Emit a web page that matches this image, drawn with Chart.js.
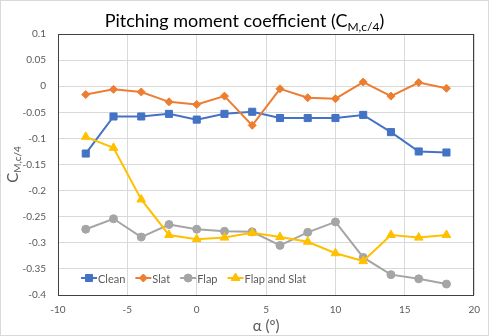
<!DOCTYPE html>
<html>
<head>
<meta charset="utf-8">
<script src="https://cdn.jsdelivr.net/npm/chart.js@4.4.1/dist/chart.umd.min.js"></script>
<style>
  html, body { margin: 0; padding: 0; background: #fff; }
  #wrap { width: 489px; height: 336px; }
</style>
</head>
<body>
<div id="wrap"><canvas id="myChart" width="489" height="336"></canvas></div>
<script>
// angle of attack (deg)
const alpha = [-8, -6, -4, -2, 0, 2, 4, 6, 8, 10, 12, 14, 16, 18];

// pitching moment coefficient
const clean = [-0.129, -0.058, -0.058, -0.053, -0.064, -0.053, -0.049, -0.061, -0.061, -0.061, -0.055, -0.088, -0.125, -0.127];
const slat = [-0.016, -0.006, -0.011, -0.030, -0.035, -0.019, -0.075, -0.005, -0.022, -0.024, 0.008, -0.019, 0.007, -0.004];
const flap = [-0.274, -0.254, -0.289, -0.265, -0.274, -0.278, -0.279, -0.305, -0.280, -0.260, -0.328, -0.361, -0.369, -0.379];
const flapSlat = [-0.097, -0.118, -0.217, -0.285, -0.293, -0.290, -0.281, -0.289, -0.298, -0.320, -0.335, -0.285, -0.290, -0.285];

const seriesNames = ['Clean', 'Slat', 'Flap', 'Flap and Slat'];
const xTicks = [-10, -5, 0, 5, 10, 15, 20];
const yTicks = [0.1, 0.05, 0, -0.05, -0.1, -0.15, -0.2, -0.25, -0.3, -0.35, -0.4];

const ctx = document.getElementById('myChart');
const FONT = 'Lato';
const TXT = '#595959';

Chart.defaults.font.family = FONT;
Chart.defaults.color = TXT;

const toXY = (ys) => alpha.map((a, i) => ({ x: a, y: ys[i] }));

const makeSet = (label, ys, color, style, radius, order) => ({
    label: label,
    data: toXY(ys),
    borderColor: color,
    backgroundColor: color,
    borderWidth: 2,
    pointStyle: style,
    pointRadius: radius,
    pointBorderWidth: 1,
    pointHoverRadius: radius,
    tension: 0,
    order: order
});

// title, axis titles with subscripts, frame and legend
const decorations = {
    id: 'decorations',
    afterDraw(chart) {
        const c = chart.ctx;
        const a = chart.chartArea;
        c.save();

        // outer border
        c.strokeStyle = '#d9d9d9';
        c.lineWidth = 1;
        c.strokeRect(0.5, 0.5, chart.width - 1, chart.height - 1);

        // plot frame
        c.strokeStyle = '#404040';
        c.strokeRect(Math.round(a.left) + 0.5, Math.round(a.top) + 0.5,
            Math.round(a.right - a.left) - 1, Math.round(a.bottom - a.top));

        // title
        c.fillStyle = '#000';
        c.textBaseline = 'alphabetic';
        const t1 = 'Pitching moment coefficient (C';
        const sub = 'M,c/4';
        const t2 = ')';
        c.font = '18px ' + FONT;
        const w1 = c.measureText(t1).width;
        const w3 = c.measureText(t2).width;
        c.font = '12px ' + FONT;
        const w2 = c.measureText(sub).width;
        let x = chart.width / 2 - (w1 + w2 + w3) / 2;
        c.font = '18px ' + FONT;
        c.textAlign = 'left';
        c.fillText(t1, x, 27);
        c.font = '12px ' + FONT;
        c.fillText(sub, x + w1, 31);
        c.font = '18px ' + FONT;
        c.fillText(t2, x + w1 + w2, 27);

        // x axis title
        c.font = '15px ' + FONT;
        c.fillStyle = TXT;
        c.textAlign = 'center';
        c.fillText('α (º)', (a.left + a.right) / 2, 331);

        // y axis title (rotated)
        c.save();
        c.translate(18, (a.top + a.bottom) / 2);
        c.rotate(-Math.PI / 2);
        c.font = '15px ' + FONT;
        const cw = c.measureText('C').width;
        c.font = '10px ' + FONT;
        const sw = c.measureText(sub).width;
        c.textAlign = 'left';
        c.font = '15px ' + FONT;
        c.fillText('C', -(cw + sw) / 2, 0);
        c.font = '10px ' + FONT;
        c.fillText(sub, -(cw + sw) / 2 + cw, 3);
        c.restore();

        // legend inside the plot area
        c.font = '11px ' + FONT;
        c.textAlign = 'left';
        c.textBaseline = 'middle';
        let lx = 81;
        const ly = 278;
        chart.data.datasets.forEach((ds) => {
            c.strokeStyle = ds.borderColor;
            c.lineWidth = 2;
            c.beginPath();
            c.moveTo(lx, ly);
            c.lineTo(lx + 16, ly);
            c.stroke();
            c.fillStyle = ds.backgroundColor;
            c.lineWidth = 1;
            Chart.helpers.drawPoint(c, { pointStyle: ds.pointStyle, radius: ds.pointRadius, borderWidth: 1, rotation: 0 }, lx + 8, ly);
            c.fillStyle = TXT;
            c.fillText(ds.label, lx + 17, ly + 1);
            lx += 17 + c.measureText(ds.label).width + 10;
        });

        c.restore();
    }
};

new Chart(ctx, {
    type: 'line',
    data: {
        datasets: [
            makeSet(seriesNames[0], clean, '#4472C4', 'rect', 5, 4),
            makeSet(seriesNames[1], slat, '#ED7D31', 'rectRot', 4, 3),
            makeSet(seriesNames[2], flap, '#A5A5A5', 'circle', 4, 2),
            makeSet(seriesNames[3], flapSlat, '#FFC000', 'triangle', 5, 1)
        ]
    },
    options: {
        responsive: false,
        animation: false,
        layout: { padding: { top: 34, right: 14, left: 0, bottom: 0 } },
        plugins: {
            legend: { display: false },
            title: { display: false },
            tooltip: { enabled: false }
        },
        scales: {
            x: {
                type: 'linear',
                min: -10,
                max: 20,
                afterBuildTicks: (s) => { s.ticks = xTicks.map((v) => ({ value: v })); },
                afterFit: (s) => { s.height = 41; },
                grid: { color: '#d9d9d9', drawTicks: false },
                border: { display: false },
                ticks: {
                    font: { size: 10, family: FONT },
                    color: TXT,
                    padding: 9,
                    maxRotation: 0,
                    callback: (v) => String(v)
                }
            },
            y: {
                min: -0.4,
                max: 0.1,
                afterBuildTicks: (s) => { s.ticks = yTicks.map((v) => ({ value: v })); },
                afterFit: (s) => { s.width = 58; },
                grid: { color: '#d9d9d9', drawTicks: false },
                border: { display: false },
                ticks: {
                    font: { size: 10, family: FONT },
                    color: TXT,
                    padding: 12,
                    callback: (v) => String(Number(v.toFixed(2)))
                }
            }
        }
    },
    plugins: [decorations]
});
</script>
</body>
</html>
